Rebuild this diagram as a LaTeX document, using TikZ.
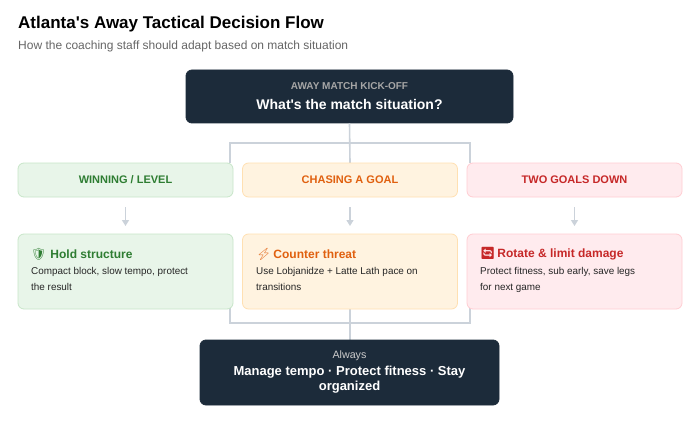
\documentclass[tikz,border=0pt]{standalone}
\usepackage{fontspec}
\setmainfont{Liberation Sans}
\newfontfamily\emo{Noto Emoji}
\usetikzlibrary{arrows.meta}
\definecolor{dark}{HTML}{1C2B3A}
\definecolor{gfill}{HTML}{E8F5E9}\definecolor{gline}{HTML}{C8E6C9}\definecolor{gtext}{HTML}{2E7D32}
\definecolor{ofill}{HTML}{FFF3E0}\definecolor{oline}{HTML}{FFE0B2}\definecolor{otext}{HTML}{E0600F}
\definecolor{rfill}{HTML}{FFEBEE}\definecolor{rline}{HTML}{FFCDD2}\definecolor{rtext}{HTML}{C62828}
\definecolor{conn}{HTML}{CBD2DA}
\definecolor{sub}{HTML}{666666}
\tikzset{
 box/.style={rounded corners=6pt,line width=0.8pt,inner sep=0pt},
 darkbox/.style={box,fill=dark,draw=dark,text=white,align=center},
 sit/.style={box,minimum width=215pt,minimum height=34pt,font=\bfseries\fontsize{11}{13}\selectfont},
 det/.style={box,minimum width=215pt,minimum height=75pt},
 conline/.style={draw=conn,line width=1.6pt},
 arr/.style={draw=conn,line width=1.3pt,-{Triangle[width=7pt,length=6pt]}},
 head/.style={anchor=west,inner sep=0pt,font=\bfseries\fontsize{12}{14}\selectfont},
}
\begin{document}
\begin{tikzpicture}[x=1pt,y=-1pt]
\useasboundingbox[fill=white] (0,0) rectangle (700,422);
\node[anchor=west,inner sep=0pt,font=\bfseries\fontsize{17}{20}\selectfont,text=black] (title) at (18,24) {Atlanta\textquotesingle s Away Tactical Decision Flow};
\node[anchor=west,inner sep=0pt,font=\fontsize{12}{14}\selectfont,text=sub] (subt) at (18,46) {How the coaching staff should adapt based on match situation};
\node[darkbox,minimum width=327pt,minimum height=53pt] (top) at (349.5,96.5) {};
\node[text=gray!70,font=\bfseries\fontsize{10}{12}\selectfont] (toplab) at (349.5,86) {AWAY MATCH KICK-OFF};
\node[text=white,font=\bfseries\fontsize{14}{16}\selectfont] (topq) at (349.5,104) {What\textquotesingle s the match situation?};
\draw[conline] (top.south) -- (350,163);
\draw[conline] (230,163) -- (230,143) -- (470,143) -- (470,163);
\node[sit,fill=gfill,draw=gline,text=gtext] (s1) at (125.5,180) {WINNING / LEVEL};
\node[sit,fill=ofill,draw=oline,text=otext] (s2) at (350,180) {CHASING A GOAL};
\node[sit,fill=rfill,draw=rline,text=rtext] (s3) at (574.5,180) {TWO GOALS DOWN};
\coordinate (a1) at (125.5,207);\coordinate (a2) at (350,207);\coordinate (a3) at (574.5,207);
\coordinate (b1) at (125.5,226);\coordinate (b2) at (350,226);\coordinate (b3) at (574.5,226);
\draw[arr] (a1)--(b1); \draw[arr] (a2)--(b2); \draw[arr] (a3)--(b3);
\draw[conline] (230,305) -- (230,323) -- (470,323) -- (470,305);
\draw[conline] (350,305) -- (350,342);
\node[det,fill=gfill,draw=gline] (d1) at (125.5,271.5) {};
\node[det,fill=ofill,draw=oline] (d2) at (350,271.5) {};
\node[det,fill=rfill,draw=rline] (d3) at (574.5,271.5) {};
\node[head,text=gtext] (h1) at (31,254) {{\emo 🛡}\,\,Hold structure};
\node[head,text=otext] (h2) at (256,254) {{\emo ⚡}\,Counter threat};
\node[head,text=rtext] (h3) at (480,254) {{\emo 🔄}\,Rotate \& limit damage};
\tikzset{dt/.style={anchor=north west,align=left,text=black!85,font=\fontsize{9.9}{16}\selectfont,inner sep=0pt}}
\node[dt] (t1) at (31,267) {Compact block, slow tempo, protect\\the result};
\node[dt] (t2) at (256,267) {Use Lobjanidze + Latte Lath pace on\\transitions};
\node[dt] (t3) at (480,267) {Protect fitness, sub early, save legs\\for next game};
\node[darkbox,minimum width=299pt,minimum height=65pt] (bot) at (349.5,372.5) {};
\node[text=gray!40,font=\fontsize{10.7}{12}\selectfont] (botl) at (349.5,356) {Always};
\node[text=white,align=center,font=\bfseries\fontsize{13}{15}\selectfont] (botm) at (349.5,380) {Manage tempo · Protect fitness · Stay\\organized};
\end{tikzpicture}
\end{document}
